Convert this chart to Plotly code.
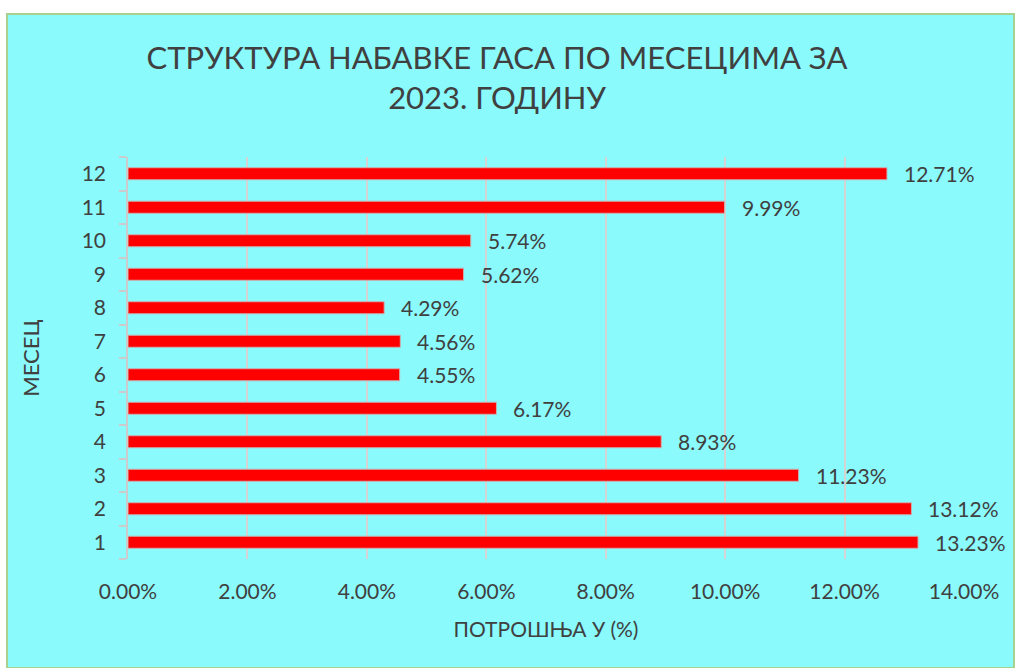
import plotly.graph_objects as go

months = ["1", "2", "3", "4", "5", "6", "7", "8", "9", "10", "11", "12"]
shares = [13.23, 13.12, 11.23, 8.93, 6.17, 4.55, 4.56, 4.29, 5.62, 5.74, 9.99, 12.71]
labels = [f"{v:.2f}%" for v in shares]
x_ticks = [0, 2, 4, 6, 8, 10, 12, 14]
x_tick_text = [f"{v:.2f}%" for v in x_ticks]

FONT = "Lato"
TXT = "#404040"
W, H = 1015, 668
L, R, T, B = 128, 51, 157, 109
pw, ph = W - L - R, H - T - B

fig = go.Figure()
fig.add_trace(go.Bar(
    x=shares, y=months, orientation="h",
    marker=dict(color="#FF0000", line=dict(color="#C9B0B0", width=1)),
    hoverinfo="x+y",
))

for i, (v, t) in enumerate(zip(shares, labels)):
    fig.add_annotation(x=v, y=i, text=t, showarrow=False, xanchor="left",
                       xshift=15, font=dict(family=FONT, size=21, color=TXT))

# chart area background with border
fig.add_shape(type="rect", xref="paper", yref="paper", layer="below",
              x0=(7 - L) / pw, x1=(W - 1 - L) / pw,
              y0=-(B) / ph, y1=(H - B - 14) / ph,
              fillcolor="#8AFAFD", line=dict(color="#A9D18E", width=2))

fig.update_layout(
    width=W, height=H,
    margin=dict(l=L, r=R, t=T, b=B),
    paper_bgcolor="white", plot_bgcolor="rgba(0,0,0,0)",
    bargap=0.64, showlegend=False,
    font=dict(family=FONT, color=TXT),
    title=dict(text="СТРУКТУРА НАБАВКЕ ГАСА ПО МЕСЕЦИМА ЗА<br>2023. ГОДИНУ",
               x=497 / W, xanchor="center", y=1 - 69 / H, yanchor="middle",
               font=dict(family=FONT, size=31, color=TXT)),
    xaxis=dict(range=[0, 14], tickvals=x_ticks, ticktext=x_tick_text,
               showgrid=True, gridcolor="#D4D4D4", gridwidth=1.5,
               zeroline=False, showline=False, ticks="",
               ticklabelstandoff=18,
               tickfont=dict(family=FONT, size=21, color=TXT),
               title=dict(text="ПОТРОШЊА У (%)", standoff=20,
                          font=dict(family=FONT, size=21, color=TXT))),
    yaxis=dict(type="category", categoryorder="array", categoryarray=months,
               range=[-0.5, 11.5],
               showgrid=False, zeroline=False,
               showline=True, linecolor="#CCCCCC", linewidth=1.5,
               ticks="outside", tickson="boundaries", ticklen=7, tickcolor="#CCCCCC",
               tickwidth=1.5, ticklabelstandoff=16,
               tickfont=dict(family=FONT, size=21, color=TXT),
               title=dict(text="МЕСЕЦ", standoff=36,
                          font=dict(family=FONT, size=22, color=TXT))),
)

fig.write_html("out.html")
